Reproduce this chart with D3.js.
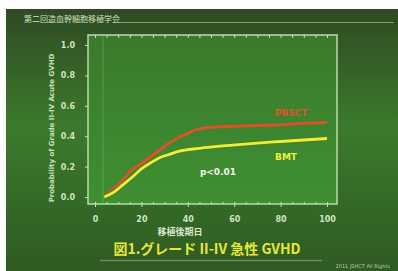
<!DOCTYPE html>
<html>
<head>
<meta charset="utf-8">
<script src="https://cdn.jsdelivr.net/npm/d3@7"></script>
<style>
  body { margin: 0; background: #fff; }
  svg { display: block; }
</style>
</head>
<body>
<script>
// data (cumulative incidence, days after transplant)
const bmtDays = [4, 8, 12, 16, 20, 24, 28, 32, 36, 45, 58, 70, 80, 90, 100];
const bmtVals = [0, 0.03, 0.08, 0.13, 0.185, 0.225, 0.26, 0.28, 0.3, 0.32, 0.34, 0.355, 0.365, 0.375, 0.385];
const pbDays = [4, 7, 10, 13, 16, 20, 24, 28, 32, 36, 39, 43, 48, 60, 70, 80, 90, 100];
const pbVals = [0, 0.04, 0.08, 0.13, 0.18, 0.22, 0.265, 0.31, 0.355, 0.39, 0.41, 0.44, 0.455, 0.465, 0.47, 0.475, 0.485, 0.49];
const xTicks = [0, 20, 40, 60, 80, 100];
const yTicks = [0, 0.2, 0.4, 0.6, 0.8, 1.0];

const W = 398, H = 271;
const svg = d3.select("body").append("svg").attr("width", W).attr("height", H);

const defs = svg.append("defs");
const bg = defs.append("linearGradient").attr("id", "bg").attr("x1", 0).attr("y1", 0).attr("x2", 0).attr("y2", 1);
bg.append("stop").attr("offset", "0%").attr("stop-color", "#2f4a22");
bg.append("stop").attr("offset", "45%").attr("stop-color", "#3b7a2c");
bg.append("stop").attr("offset", "100%").attr("stop-color", "#2f5a22");
const pg = defs.append("linearGradient").attr("id", "pg").attr("x1", 0).attr("y1", 0).attr("x2", 0).attr("y2", 1);
pg.append("stop").attr("offset", "0%").attr("stop-color", "#3a7a2c");
pg.append("stop").attr("offset", "100%").attr("stop-color", "#3f8f33");

svg.append("rect").attr("x", 6).attr("y", 9).attr("width", W - 6).attr("height", H - 9).attr("fill", "url(#bg)");

// slide header
svg.append("text").attr("x", 24).attr("y", 22).attr("fill", "#d0e2c0")
  .attr("font-family", "Noto Sans CJK JP").attr("font-size", 8).text("第二回造血幹細胞移植学会");
svg.append("line").attr("x1", 118).attr("x2", 394).attr("y1", 22.5).attr("y2", 22.5)
  .attr("stroke", "#9fbf8a").attr("stroke-width", 1).attr("opacity", 0.7);

const x = d3.scaleLinear().domain([0, 100]).range([95, 327]);
const y = d3.scaleLinear().domain([0, 1]).range([197, 45]);
const fx0 = 88, fx1 = 337, fy0 = 35, fy1 = 204;

svg.append("rect").attr("x", fx0).attr("y", fy0).attr("width", fx1 - fx0).attr("height", fy1 - fy0)
  .attr("fill", "url(#pg)").attr("stroke", "#b8dca8").attr("stroke-width", 1.5);
svg.append("line").attr("x1", 103).attr("x2", 103).attr("y1", fy0).attr("y2", fy1)
  .attr("stroke", "#7fb86a").attr("stroke-width", 0.8).attr("opacity", 0.6);

// axes
const tickCol = "#c8e2b8";
const gx = svg.append("g").attr("transform", `translate(0,${fy1})`)
  .call(d3.axisBottom(x).tickValues(xTicks).tickSize(3).tickPadding(9));
const gy = svg.append("g").attr("transform", `translate(${fx0},0)`)
  .call(d3.axisLeft(y).tickValues(yTicks).tickFormat(d3.format(".1f")).tickSize(3).tickPadding(10));
const gt = svg.append("g").attr("transform", `translate(0,${fy0})`)
  .call(d3.axisTop(x).ticks(20).tickFormat("").tickSize(-3));
const gb = svg.append("g").attr("transform", `translate(0,${fy1})`)
  .call(d3.axisBottom(x).ticks(20).tickFormat("").tickSize(-2));
for (const g of [gx, gy, gt, gb]) {
  g.select(".domain").remove();
  g.selectAll("line").attr("stroke", tickCol);
  g.selectAll("text").attr("fill", "#cfe4c0").attr("font-family", "DejaVu Sans")
    .attr("font-size", 8).attr("font-weight", "bold");
}

svg.append("text").attr("transform", "translate(54,128) rotate(-90)").attr("text-anchor", "middle")
  .attr("fill", "#c8e0b8").attr("font-family", "DejaVu Sans").attr("font-size", 7).attr("font-weight", "bold")
  .text("Probability of Grade II-IV Acute GVHD");

svg.append("text").attr("x", 180).attr("y", 235).attr("text-anchor", "middle")
  .attr("fill", "#d8e8c8").attr("font-family", "Noto Sans CJK JP").attr("font-size", 9).attr("font-weight", "bold")
  .text("移植後期日");

// curves
const line = d3.line().x(d => x(d[0])).y(d => y(d[1])).curve(d3.curveMonotoneX);
const pbData = d3.zip(pbDays, pbVals);
const bmtData = d3.zip(bmtDays, bmtVals);
svg.append("path").datum(pbData).attr("d", line).attr("fill", "none")
  .attr("stroke", "#d9542a").attr("stroke-width", 3);
svg.append("path").datum(bmtData).attr("d", line).attr("fill", "none")
  .attr("stroke", "#5a7a10").attr("stroke-width", 5).attr("opacity", 0.6);
svg.append("path").datum(bmtData).attr("d", line).attr("fill", "none")
  .attr("stroke", "#e8f040").attr("stroke-width", 2.8);

svg.append("text").attr("x", 291).attr("y", 116).attr("text-anchor", "middle")
  .attr("fill", "#e0502a").attr("font-family", "DejaVu Sans").attr("font-size", 9).attr("font-weight", "bold").text("PBSCT");
svg.append("text").attr("x", 286).attr("y", 160).attr("text-anchor", "middle")
  .attr("fill", "#eef040").attr("font-family", "DejaVu Sans").attr("font-size", 9).attr("font-weight", "bold").text("BMT");
svg.append("text").attr("x", 218).attr("y", 175).attr("text-anchor", "middle")
  .attr("fill", "#f0f4e8").attr("font-family", "DejaVu Sans").attr("font-size", 9).attr("font-weight", "bold").text("p<0.01");

// caption
svg.append("text").attr("x", 207).attr("y", 254).attr("text-anchor", "middle")
  .attr("fill", "#e6e838").attr("font-family", "Noto Sans CJK JP").attr("font-size", 14).attr("font-weight", "bold")
  .text("図1.グレード II-IV 急性 GVHD");
svg.append("line").attr("x1", 100).attr("x2", 322).attr("y1", 260.5).attr("y2", 260.5)
  .attr("stroke", "#7fa070").attr("stroke-width", 1.5).attr("opacity", 0.7);
svg.append("text").attr("x", 390).attr("y", 268).attr("text-anchor", "end")
  .attr("fill", "#b8ccb0").attr("font-family", "DejaVu Sans").attr("font-size", 5).text("2011 JSHCT  All Rights");
</script>
</body>
</html>
